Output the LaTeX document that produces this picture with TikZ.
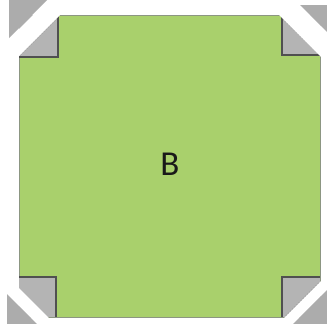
\documentclass[tikz,border=0pt]{standalone}
\usepackage{fontspec}
\setmainfont{Carlito}
\definecolor{grn}{RGB}{169,208,108}
\definecolor{gry}{RGB}{180,180,180}
\definecolor{ogry}{RGB}{172,172,172}
\definecolor{dk}{RGB}{80,80,80}
\definecolor{edgec}{RGB}{140,150,130}
\tikzset{
  cornerbox/.style={fill=gry, draw=none},
  innerline/.style={draw=dk, line width=2pt},
  band/.style={fill=white, draw=none},
  outertri/.style={fill=ogry, draw=none},
  sawline/.style={draw=gry!70!black, line width=0.8pt, dash pattern=on 1.5pt off 1.5pt},
}
\begin{document}
\begin{tikzpicture}[x=1pt,y=-1pt]
\useasboundingbox (0,0) rectangle (327,324);
\fill[white] (0,0) rectangle (327,324);
\node[draw=edgec, fill=grn, line width=1pt, inner sep=0pt, minimum width=301pt, minimum height=302pt] (sq) at (169.5,166) {};
\node[font=\fontsize{35}{35}\selectfont, text=black!90] (lbl) at (170,164) {B};
% corner squares
\fill[cornerbox] (19,15) rectangle (58,57);
\fill[cornerbox] (282,15) rectangle (320,55);
\fill[cornerbox] (19,277) rectangle (56,317);
\fill[cornerbox] (282,277) rectangle (320,317);
% inner dark borders
\draw[innerline] (58,15) -- (58,57) -- (19,57);
\draw[innerline] (282,15) -- (282,55) -- (320,55);
\draw[innerline] (19,277) -- (56,277) -- (56,317);
\draw[innerline] (320,277) -- (282,277) -- (282,317);
% saw lines along cuts
\draw[sawline] (20,55) -- (57,18);
\draw[sawline] (283,19) -- (319,54);
\draw[sawline] (20,291) -- (46,317);
\draw[sawline] (286,316) -- (319,283);
% white bands
\fill[band] (0,48) -- (48,0) -- (75,0) -- (0,75) -- cycle;
\fill[band] (264,0) -- (295,0) -- (327,32) -- (327,63) -- cycle;
\fill[band] (0,269) -- (0,287) -- (37,324) -- (55,324) -- cycle;
\fill[band] (327,275) -- (327,290) -- (293,324) -- (278,324) -- cycle;
% outer triangles
\fill[outertri] (9,0) -- (47,0) -- (9,38) -- cycle;
\fill[outertri] (300,5) -- (327,5) -- (327,32) -- cycle;
\fill[outertri] (7,294) -- (7,324) -- (37,324) -- cycle;
\fill[outertri] (327,290) -- (327,324) -- (293,324) -- cycle;
\end{tikzpicture}
\end{document}
